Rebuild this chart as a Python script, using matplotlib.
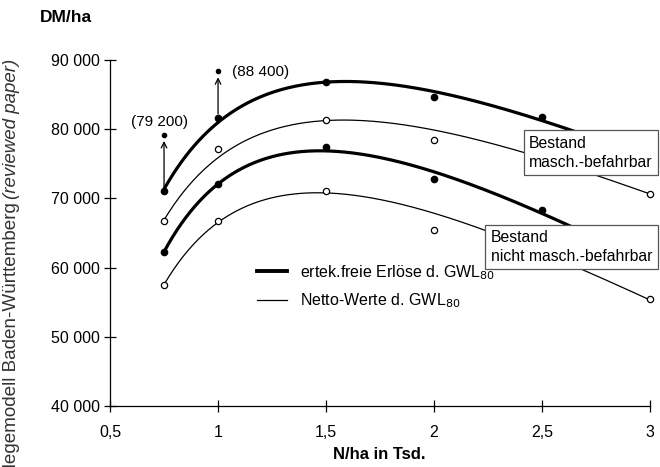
import numpy as np
import matplotlib
matplotlib.use("Agg")
import matplotlib.pyplot as plt

plt.rcParams['font.family'] = ['Liberation Sans', 'DejaVu Sans']

# stem numbers (N/ha in Tsd.)
x_thick = [0.75, 1.0, 1.5, 2.0, 2.5]
x_thin = [0.75, 1.0, 1.5, 2.0, 3.0]

# Bestand masch.-befahrbar
erloese_masch = [71000, 81600, 86800, 84700, 81700]
netto_masch = [66800, 77100, 81300, 78400, 70700]
# Bestand nicht masch.-befahrbar
erloese_nicht = [62200, 72100, 77500, 72800, 68300]
netto_nicht = [57500, 66800, 71000, 65400, 55400]

# fit weights of the netto trend lines
w_thin = [3, 1, 3, 1, 3]

# outliers shown with arrows
outlier_x = [0.75, 1.0]
outlier_y = [79200, 88400]
outlier_labels = ['(79 200)', '(88 400)']

yticks = [40000, 50000, 60000, 70000, 80000, 90000]
ytick_labels = ['40 000', '50 000', '60 000', '70 000', '80 000', '90 000']
xticks = [0.5, 1, 1.5, 2, 2.5, 3]
xtick_labels = ['0,5', '1', '1,5', '2', '2,5', '3']


def trend(xs, ys, x_end, w=None, n=300):
    """Quadratic trend in ln(N/ha)."""
    coef = np.polyfit(np.log(xs), ys, 2, w=w)
    xx = np.linspace(xs[0], x_end, n)
    return xx, np.polyval(coef, np.log(xx))


fig = plt.figure(figsize=(6.6, 4.67), dpi=100)
ax = fig.add_axes([0.1667, 0.1306, 0.8183, 0.7409])

thick_start = []
for ys in (erloese_masch, erloese_nicht):
    xx, yy = trend(x_thick, ys, 2.75)
    thick_start.append(yy[0])
    ax.plot(xx, yy, color='black', lw=2.3, solid_capstyle='butt', zorder=2)
    ax.plot(x_thick, ys, 'o', color='black', ms=4.5, zorder=3)

for ys in (netto_masch, netto_nicht):
    xx, yy = trend(x_thin, ys, 3.0, w=w_thin)
    ax.plot(xx, yy, color='black', lw=0.9, zorder=2)
    ax.plot(x_thin, ys, 'o', mfc='white', mec='black', mew=0.9, ms=4.5,
            zorder=3, clip_on=False)

# outliers with arrows
starts = [thick_start[0] + 300, erloese_masch[1] + 600]
for i in range(len(outlier_x)):
    ax.plot(outlier_x[i], outlier_y[i], 'o', color='black', ms=3, zorder=3)
    ax.annotate('', xy=(outlier_x[i], outlier_y[i] - 900),
                xytext=(outlier_x[i], starts[i]),
                arrowprops=dict(arrowstyle='->', lw=0.9, color='black',
                                shrinkA=0, shrinkB=0, mutation_scale=10))
ax.text(0.73, 81000, outlier_labels[0], fontsize=11, ha='center', va='center')
ax.text(1.065, 88300, outlier_labels[1], fontsize=11, ha='left', va='center')

# group boxes
box = dict(boxstyle='square,pad=0.35', fc='white', ec='#555555', lw=0.9)
ax.text(2.44, 76600, 'Bestand\nmasch.-befahrbar', fontsize=11.3,
        va='center', ha='left', bbox=box, zorder=5, linespacing=1.3,
        clip_on=False)
ax.text(2.262, 63000, 'Bestand\nnicht masch.-befahrbar', fontsize=11.3,
        va='center', ha='left', bbox=box, zorder=5, linespacing=1.3,
        clip_on=False)

# legend
h1, = ax.plot([], [], color='black', lw=2.8)
h2, = ax.plot([], [], color='black', lw=0.9)
ax.legend([h1, h2], ['ertek.freie Erlöse d. GWL$_{80}$', 'Netto-Werte d. GWL$_{80}$'],
          loc='upper left', bbox_to_anchor=(0.245, 0.455), frameon=False,
          fontsize=11.5, handlelength=1.9, handletextpad=0.8, labelspacing=0.6)

ax.set_xlim(0.5, 3.0)
ax.set_ylim(40000, 90000)
ax.set_xticks(xticks)
ax.set_xticklabels(xtick_labels)
ax.set_yticks(yticks)
ax.set_yticklabels(ytick_labels)
ax.tick_params(axis='both', direction='inout', length=8, width=0.9, labelsize=11.5)
ax.tick_params(axis='x', pad=10)
for side in ('top', 'right'):
    ax.spines[side].set_visible(False)
for side in ('left', 'bottom'):
    ax.spines[side].set_linewidth(0.9)

fig.text(0.061, 0.962, 'DM/ha', fontsize=12.5, fontweight='bold', va='center')
fig.text(0.575, 0.026, 'N/ha in Tsd.', fontsize=12, fontweight='bold',
         ha='center', va='center')

# cut-off y label: italic part on top, plain part right below it
lab_x = 0.017
t_it = fig.text(lab_x, 1 - 59 / 467, '(reviewed paper)', rotation=90, fontsize=13.5,
                style='italic', ha='center', va='top', color='#333333')
fig.canvas.draw()
bb = t_it.get_window_extent().transformed(fig.transFigure.inverted())
fig.text(lab_x, bb.y0 - 0.006, 'Pflegemodell Baden-Württemberg', rotation=90,
         fontsize=13.6, ha='center', va='top', color='#333333')

fig.savefig('out.png', dpi=100)
